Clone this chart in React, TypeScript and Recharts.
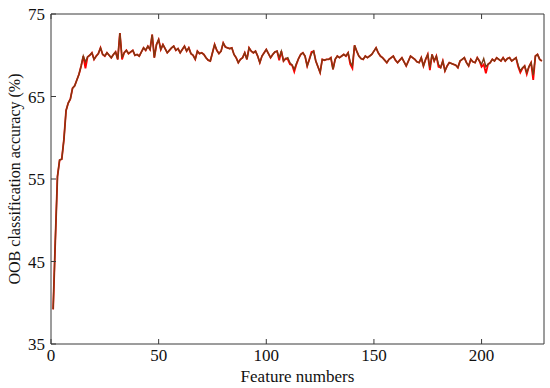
import { LineChart, Line, XAxis, YAxis } from "recharts";

// feature count on x, 1..228
const featureNumbers: number[] = Array.from({ length: 228 }, (_, i) => i + 1);

// dark brown curve (drawn on top)
const brownSeries: number[] = [
  39.2, 47.5, 55.3, 57.3, 57.4, 59.8, 63.3, 64.2, 64.7, 66.0,
  66.3, 67.0, 67.7, 68.7, 69.9, 69.2, 69.8, 70.0, 70.3, 69.5,
  69.9, 70.2, 70.9, 70.1, 69.9, 70.3, 70.0, 69.7, 70.1, 70.4,
  69.5, 72.7, 69.7, 70.3, 70.6, 70.2, 70.4, 70.6, 70.0, 70.1,
  69.9, 70.4, 70.9, 70.6, 71.1, 70.7, 72.5, 69.7, 71.3, 71.9,
  70.7, 71.3, 70.8, 70.3, 70.6, 70.9, 71.1, 70.6, 70.8, 70.3,
  70.7, 71.1, 70.5, 70.9, 70.2, 70.0, 69.5, 70.5, 70.2, 70.3,
  70.1, 69.7, 69.4, 69.3, 70.3, 71.3, 70.6, 70.2, 70.5, 71.5,
  71.0, 70.9, 70.8, 70.9, 70.1, 69.7, 69.1, 69.5, 69.7, 70.3,
  69.5, 70.9, 70.5, 70.3, 70.5, 69.9, 69.1, 69.9, 70.3, 70.7,
  70.2, 69.7, 70.1, 70.4, 70.5, 69.7, 70.5, 69.3, 69.6, 69.7,
  69.1, 68.8, 68.3, 69.0, 69.6, 70.1, 70.3, 69.9, 68.7, 69.5,
  70.2, 70.5, 69.3, 68.6, 67.9, 69.5, 69.4, 69.5, 69.5, 69.7,
  68.3, 69.5, 69.9, 69.7, 69.9, 70.1, 69.9, 70.3, 69.2, 68.7,
  71.2, 70.5, 69.9, 69.6, 69.5, 69.9, 69.7, 69.9, 70.1, 70.5,
  70.9, 70.3, 69.9, 69.7, 69.4, 69.1, 69.5, 69.7, 69.9, 69.4,
  69.1, 69.4, 69.7, 69.2, 68.7, 69.3, 69.9, 69.7, 69.5, 69.2,
  69.1, 69.7, 68.7, 69.5, 70.1, 68.5, 70.1, 69.3, 69.9, 68.9,
  68.5, 69.3, 68.1, 68.7, 69.1, 69.0, 68.9, 68.8, 68.5, 69.3,
  69.5, 69.7, 69.1, 68.7, 69.5, 69.2, 69.1, 69.7, 69.3, 68.9,
  69.6, 68.6, 68.9, 69.1, 69.5, 69.3, 69.7, 69.5, 69.3, 69.7,
  69.3, 69.6, 69.7, 69.3, 69.5, 69.7, 68.8, 68.1, 68.5, 68.7,
  67.9, 68.6, 69.1, 67.6, 69.9, 70.1, 69.5, 69.3,
];

// red curve, mostly hidden under the brown one
const redSeries: number[] = [
  39.2, 47.5, 55.3, 57.3, 57.4, 59.8, 63.3, 64.2, 64.7, 66.0,
  66.3, 67.0, 67.7, 68.7, 69.9, 68.4, 69.8, 70.0, 70.3, 69.5,
  69.9, 70.2, 70.9, 70.1, 69.9, 70.3, 70.0, 69.7, 70.1, 70.4,
  69.5, 72.7, 69.5, 70.3, 70.6, 70.2, 70.4, 70.6, 70.0, 70.1,
  69.9, 70.4, 70.9, 70.6, 71.1, 70.7, 72.5, 69.7, 71.3, 71.9,
  70.7, 71.3, 70.8, 70.3, 70.6, 70.9, 71.1, 70.6, 70.8, 70.3,
  70.7, 71.1, 70.5, 70.9, 70.2, 70.0, 69.5, 70.5, 70.2, 70.3,
  70.1, 69.7, 69.4, 69.3, 70.3, 71.3, 70.6, 70.2, 70.5, 71.5,
  71.0, 70.9, 70.8, 70.9, 70.1, 69.7, 69.1, 69.5, 69.7, 70.3,
  69.5, 70.9, 70.5, 70.3, 70.5, 69.9, 69.1, 69.9, 70.3, 70.7,
  70.2, 69.7, 70.1, 70.4, 70.5, 69.4, 70.5, 69.3, 69.6, 69.5,
  68.9, 68.8, 68.0, 68.9, 69.6, 70.1, 70.3, 69.9, 68.7, 69.5,
  70.4, 70.5, 69.3, 68.6, 67.9, 69.5, 69.4, 69.5, 69.5, 69.7,
  68.3, 69.5, 69.9, 69.7, 69.9, 70.1, 69.9, 70.3, 68.9, 68.4,
  71.2, 70.5, 69.9, 69.6, 69.5, 69.9, 69.7, 69.9, 70.1, 70.5,
  70.9, 70.3, 69.9, 69.7, 69.4, 69.1, 69.5, 69.7, 69.9, 69.4,
  69.1, 69.4, 69.7, 69.2, 68.7, 69.3, 69.9, 69.7, 69.5, 69.2,
  69.1, 69.7, 68.7, 69.5, 70.1, 68.2, 70.1, 69.3, 69.9, 68.6,
  68.5, 69.3, 68.1, 68.7, 69.1, 69.0, 68.9, 68.8, 68.5, 69.3,
  69.5, 69.7, 69.1, 68.7, 69.5, 69.2, 69.1, 69.7, 69.3, 68.6,
  68.9, 67.8, 68.9, 69.1, 69.5, 69.3, 69.7, 69.5, 69.3, 69.7,
  69.3, 69.6, 69.7, 69.3, 69.5, 69.7, 68.6, 67.9, 68.4, 68.7,
  67.7, 68.6, 69.1, 67.0, 69.9, 70.1, 69.5, 69.3,
];

const xTicks = [0, 50, 100, 150, 200];
const yTicks = [35, 45, 55, 65, 75];

const FONT = '"Liberation Serif", "Times New Roman", serif';
const AXIS = "#3a3a3a";
const BROWN = "#7e3a12";
const RED = "#ff0000";

const data = featureNumbers.map((x, i) => ({
  x,
  red: redSeries[i],
  brown: brownSeries[i],
}));

const tickStyle = { fontSize: 17, fill: "#111", fontFamily: FONT };

const App = () => {
  return (
    <div style={{ position: "absolute", left: 0, top: 0, background: "#fff" }}>
      <LineChart
        width={550}
        height={388}
        data={data}
        margin={{ top: 13, right: 5, bottom: 0, left: 0 }}
      >
        <XAxis
          xAxisId="bottom"
          dataKey="x"
          type="number"
          domain={[0, 229]}
          ticks={xTicks}
          allowDataOverflow
          height={44}
          stroke={AXIS}
          tickSize={-5}
          tickMargin={10}
          tick={tickStyle}
          label={{
            value: "Feature numbers",
            position: "insideBottom",
            offset: 6,
            style: { fontSize: 17, fill: "#111", fontFamily: FONT },
          }}
        />
        <XAxis
          xAxisId="top"
          dataKey="x"
          type="number"
          orientation="top"
          domain={[0, 229]}
          ticks={xTicks}
          allowDataOverflow
          height={1}
          stroke={AXIS}
          tickSize={-5}
          tickFormatter={() => ""}
        />
        <YAxis
          yAxisId="left"
          type="number"
          domain={[35, 75]}
          ticks={yTicks}
          width={51}
          stroke={AXIS}
          tickSize={-5}
          tickMargin={11}
          tick={tickStyle}
          label={{
            value: "OOB classification accuracy (%)",
            angle: -90,
            position: "insideLeft",
            offset: 14,
            style: { fontSize: 16, fill: "#111", fontFamily: FONT, textAnchor: "middle" },
          }}
        />
        <YAxis
          yAxisId="right"
          orientation="right"
          type="number"
          domain={[35, 75]}
          ticks={yTicks}
          width={1}
          stroke={AXIS}
          tickSize={-5}
          tickFormatter={() => ""}
        />
        <Line
          xAxisId="bottom"
          yAxisId="left"
          type="linear"
          dataKey="red"
          stroke={RED}
          strokeWidth={1.8}
          dot={false}
          isAnimationActive={false}
        />
        <Line
          xAxisId="bottom"
          yAxisId="left"
          type="linear"
          dataKey="brown"
          stroke={BROWN}
          strokeWidth={1.4}
          dot={false}
          isAnimationActive={false}
        />
      </LineChart>
    </div>
  );
};

export default App;
